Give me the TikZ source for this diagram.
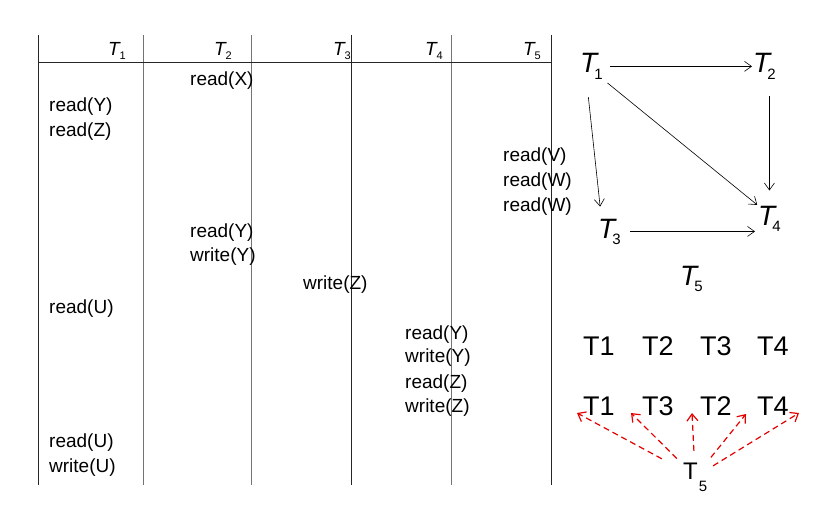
\documentclass[tikz,border=0pt]{standalone}
\usepackage{fontspec}
\setmainfont{Liberation Sans}
\usetikzlibrary{arrows.meta}
\newcommand\hT[1]{{\fontsize{19}{19}\selectfont\itshape T\kern0pt\raisebox{-4pt}{\fontsize{11}{11}\selectfont\upshape #1}}}
\newcommand\gT[1]{{\fontsize{28}{28}\selectfont\itshape T\kern-3pt\raisebox{-6pt}{\fontsize{15}{15}\selectfont\upshape #1}}}
\newcommand\bT[1]{{\fontsize{24}{24}\selectfont T\kern1pt\raisebox{-12pt}{\fontsize{15}{15}\selectfont #1}}}
\begin{document}
\begin{tikzpicture}[x=1pt,y=-1pt,
  tx/.style={font=\fontsize{19}{19}\selectfont, anchor=base west, inner sep=0pt},
  hd/.style={anchor=base east, inner sep=0pt},
  gn/.style={anchor=base west, inner sep=0pt},
  big/.style={font=\fontsize{27}{27}\selectfont, anchor=base west, inner sep=0pt},
  dline/.style={draw=black!85, line width=0.9pt},
  lline/.style={draw=black!55, line width=1pt},
  arr/.style={-{Straight Barb[length=7pt,width=10pt]}, line width=0.6pt},
  rarr/.style={draw=red!90!black, dash pattern=on 6pt off 4pt, line width=1.2pt,
     -{Straight Barb[length=7pt,width=11pt]}}]
\useasboundingbox (0,0) rectangle (813,519);
% table lines
\draw[dline] (38,35) -- (38,485);
\draw[lline] (143,35) -- (143,485);
\draw[lline] (251,35) -- (251,485);
\draw[dline] (351,35) -- (351,485);
\draw[lline] (451,35) -- (451,485);
\draw[dline] (551,35) -- (551,485);
\draw[dline] (38,62) -- (551,62);
% headers
\node[hd] (h1) at (126,56) {\hT{1}};
\node[hd] (h2) at (232,56) {\hT{2}};
\node[hd] (h3) at (351,56) {\hT{3}};
\node[hd] (h4) at (443,56) {\hT{4}};
\node[hd] (h5) at (541,56) {\hT{5}};
% operations
\node[tx] (o1) at (190,85) {read(X)};
\node[tx] (o2) at (49,111) {read(Y)};
\node[tx] (o3) at (49,136) {read(Z)};
\node[tx] (o4) at (503,161) {read(V)};
\node[tx] (o5) at (503,186) {read(W)};
\node[tx] (o6) at (503,211) {read(W)};
\node[tx] (o7) at (190,237) {read(Y)};
\node[tx] (o8) at (190,261) {write(Y)};
\node[tx] (o9) at (303,289) {write(Z)};
\node[tx] (o10) at (49,313) {read(U)};
\node[tx] (o11) at (405,339) {read(Y)};
\node[tx] (o12) at (405,362) {write(Y)};
\node[tx] (o13) at (405,388) {read(Z)};
\node[tx] (o14) at (405,412) {write(Z)};
\node[tx] (o15) at (49,447) {read(U)};
\node[tx] (o16) at (49,472) {write(U)};
% precedence graph
\node[gn] (g1) at (580,73) {\gT{1}};
\node[gn] (g2) at (753,73) {\gT{2}};
\node[gn] (g3) at (598,238) {\gT{3}};
\node[gn] (g4) at (758,225) {\gT{4}};
\node[gn] (g5) at (680,285) {\gT{5}};
\draw[arr, shorten <=7pt, shorten >=1pt] (g1.east) -- (g2.west);
\draw[arr, shorten <=17pt, shorten >=15pt] ([xshift=5pt]g2.south) -- (g4.north);
\draw[arr, shorten <=6pt, shorten >=1pt] (g1.south east) -- (g4.north west);
\draw[arr, shorten <=18pt, shorten >=12pt] ([xshift=-5pt]g1.south) -- ([xshift=-8pt]g3.north);
\draw[arr, shorten <=9pt, shorten >=3pt] (g3.east) -- (g3.east -| g4.west);
% serial orders
\node[big] (a1) at (583,355) {T1};
\node[big] (a2) at (642,355) {T2};
\node[big] (a3) at (700,355) {T3};
\node[big] (a4) at (757,355) {T4};
\node[big] (b1) at (583,415) {T1};
\node[big] (b2) at (642,415) {T3};
\node[big] (b3) at (700,415) {T2};
\node[big] (b4) at (757,415) {T4};
\node[gn] (b5) at (683,479) {\bT{5}};
\coordinate (c0) at (577,413);
\coordinate (c1) at (631,413);
\coordinate (c2) at (692,413);
\coordinate (c3) at (746,414);
\coordinate (c4) at (799,413);
\draw[rarr, shorten <=38pt] (b5.center) -- (c0);
\draw[rarr, shorten <=26pt] (b5.center) -- (c1);
\draw[rarr, shorten <=26pt] (b5.center) -- (c2);
\draw[rarr, shorten <=25pt] (b5.center) -- (c3);
\draw[rarr, shorten <=21pt] (b5.center) -- (c4);
\end{tikzpicture}
\end{document}
